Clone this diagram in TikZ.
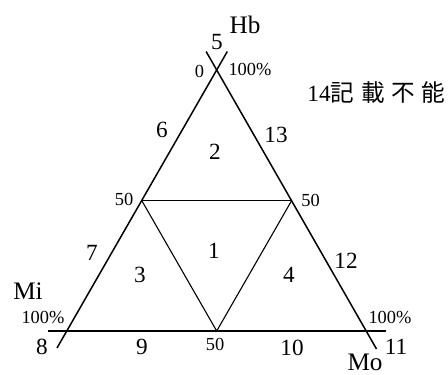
\documentclass[tikz,border=0pt]{standalone}
\usepackage{fontspec}
\setmainfont{Liberation Serif}
\newfontfamily\jpfont{Noto Sans CJK JP}
\usetikzlibrary{positioning}
\tikzset{sideline/.style={line width=0.75pt}}
\tikzset{innerline/.style={line width=0.55pt}}
\tikzset{zone/.style={inner sep=0pt, font=\fontsize{11.6}{11.6}\selectfont}}
\tikzset{pct/.style={inner sep=0pt, font=\fontsize{9.2}{9.2}\selectfont}}
\tikzset{axis/.style={inner sep=0pt, font=\fontsize{12.6}{12.6}\selectfont}}

\begin{document}
\begin{tikzpicture}[x=0.5pt, y=-0.5pt]
  \useasboundingbox (0,0) rectangle (448,374);

  % corners and half points
  \coordinate (apex) at (216.7,70);
  \coordinate (mi-corner) at (66.7,331);
  \coordinate (mo-corner) at (366.7,331);
  \coordinate (half-left) at (141.7,200.5);
  \coordinate (half-right) at (291.7,200.5);
  \coordinate (half-base) at (216.7,331);

  % line ends beyond the corners
  \coordinate (left-low) at (57,348);
  \coordinate (left-high) at (227.3,51.5);
  \coordinate (right-high) at (206.1,51.5);
  \coordinate (right-low) at (376.5,349);
  \coordinate (base-left) at (47.5,331);
  \coordinate (base-right) at (386,331);

  \draw[sideline] (left-low) -- (left-high);
  \draw[sideline] (right-high) -- (right-low);
  \draw[sideline] (base-left) -- (base-right);

  \draw[innerline] (half-left) -- (half-right);
  \draw[innerline] (half-left) -- (half-base) -- (half-right);

  % axis names
  \node[axis] (hb) at (245,25) {Hb};
  \node[axis] (mi) at (28,291) {Mi};
  \node[axis] (mo) at (365,362) {Mo};

  % scale marks
  \node[pct] (pct-top-0) at (199.5,71) {0};
  \node[pct] (pct-top-100) at (250,70) {100\%};
  \node[pct] (pct-left-50) at (124,199) {50};
  \node[pct] (pct-right-50) at (310.5,200) {50};
  \node[pct] (pct-left-100) at (43,317) {100\%};
  \node[pct] (pct-right-100) at (390,317) {100\%};
  \node[pct] (pct-base-50) at (215,344) {50};

  % zone numbers
  \node[zone] (zone-1) at (214,251) {1};
  \node[zone] (zone-2) at (215,152) {2};
  \node[zone] (zone-3) at (140,275) {3};
  \node[zone] (zone-4) at (289,275) {4};
  \node[zone] (zone-5) at (217,42) {5};
  \node[zone] (zone-6) at (162,130) {6};
  \node[zone] (zone-7) at (92,253) {7};
  \node[zone] (zone-8) at (42,347) {8};
  \node[zone] (zone-9) at (142,347) {9};
  \node[zone] (zone-10) at (292,348) {10};
  \node[zone] (zone-11) at (396,347) {11};
  \node[zone] (zone-12) at (346,261) {12};
  \node[zone] (zone-13) at (276,135) {13};
  \node[zone, anchor=west] (zone-14) at (307,93) {14{\jpfont\fontsize{11.8}{11.8}\selectfont 記\hspace{3.4pt}載\hspace{3.4pt}不\hspace{3.4pt}能}};
\end{tikzpicture}
\end{document}
